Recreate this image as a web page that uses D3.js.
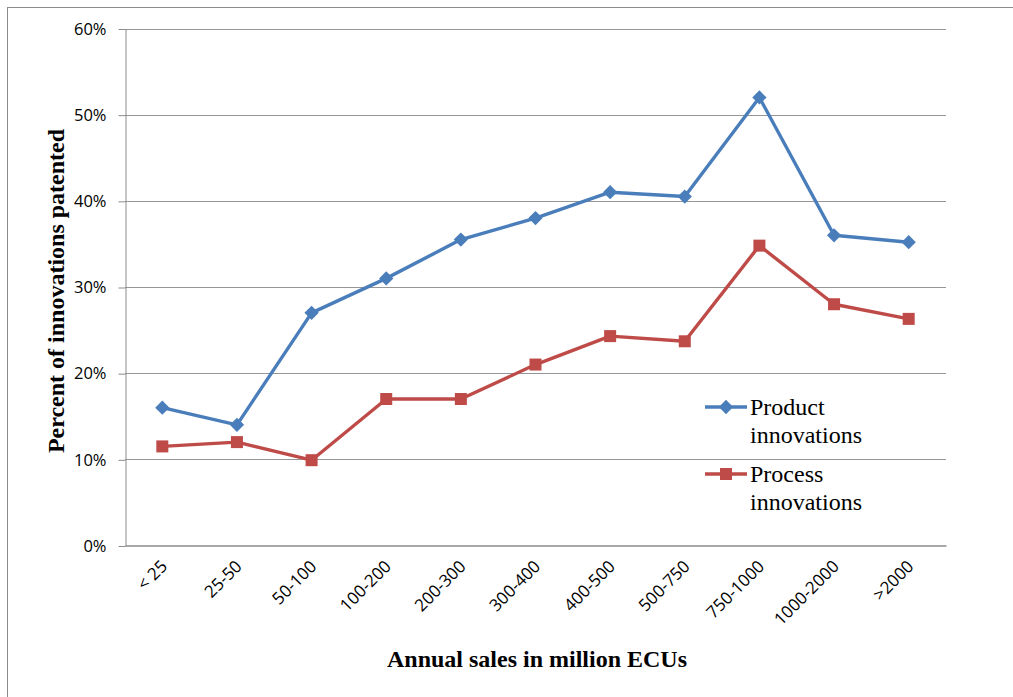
<!DOCTYPE html>
<html><head><meta charset="utf-8">
<script src="https://cdn.jsdelivr.net/npm/d3@7"></script>
<style>body{margin:0;background:#fff;}svg{display:block;}</style>
</head><body>
<svg id="c" width="1013" height="697"></svg>
<script>
const categories = ["< 25","25-50","50-100","100-200","200-300","300-400","400-500","500-750","750-1000","1000-2000",">2000"];
const productValues = [16, 14, 27, 31, 35.5, 38, 41, 40.5, 52, 36, 35.2];
const processValues = [11.5, 12, 9.9, 17, 17, 21, 24.3, 23.7, 34.8, 28, 26.3];
const yTicks = [0, 10, 20, 30, 40, 50, 60];
const seriesNames = [["Product","innovations"],["Process","innovations"]];

const svg = d3.select("#c");
const L = 125, R = 946, T = 28.5, B = 545.5;
svg.append("rect").attr("x",7.5).attr("y",7.5).attr("width",1010).attr("height",700)
  .attr("fill","none").attr("stroke","#8c8c8c").attr("stroke-width",1);

const x = d3.scaleBand().domain(categories).range([L, R]);
const y = d3.scaleLinear().domain([0, 60]).range([B, T]);
const sans = "'Open Sans', 'Liberation Sans', sans-serif";
const serif = "'Liberation Serif', 'Times New Roman', serif";

// gridlines
svg.append("g").selectAll("line").data(yTicks.filter(d=>d>0)).join("line")
  .attr("x1",L).attr("x2",R).attr("y1",d=>Math.round(y(d))+0.5).attr("y2",d=>Math.round(y(d))+0.5)
  .attr("stroke","#969696").attr("stroke-width",1);

// y axis
const yAxis = svg.append("g").attr("transform",`translate(${L+0.5},0.5)`)
  .call(d3.axisLeft(y).tickValues(yTicks).tickFormat(d=>d+"%").tickSize(7).tickSizeOuter(0));
yAxis.select(".domain").attr("stroke","#8c8c8c");
yAxis.selectAll(".tick line").attr("stroke","#8c8c8c");
yAxis.selectAll("text").attr("font-family",sans).attr("font-size",16.5).attr("fill","#000").attr("dx",-9);

// x axis
const xAxis = svg.append("g").attr("transform",`translate(0,${B})`)
  .call(d3.axisBottom(x).tickSize(0).tickSizeOuter(0));
xAxis.select(".domain").attr("stroke","#8c8c8c").attr("stroke-width",1.3);
xAxis.selectAll("text").attr("font-family",sans).attr("font-size",17).attr("fill","#000")
  .attr("text-anchor","end").attr("dy",null).attr("y",0)
  .attr("transform","translate(6,22) rotate(-45)");

const cx = d => x(d) + x.bandwidth()/2;
const line = d3.line().x((d,i)=>cx(categories[i])).y(d=>y(d));

const blue = "#4a7ebb", red = "#be4b48";
svg.append("path").datum(productValues).attr("d",line).attr("fill","none")
  .attr("stroke",blue).attr("stroke-width",3.4).attr("stroke-linejoin","round");
svg.append("path").datum(processValues).attr("d",line).attr("fill","none")
  .attr("stroke",red).attr("stroke-width",3.4).attr("stroke-linejoin","round");

const diamond = d3.symbol().type(d3.symbolDiamond2).size(130);
svg.append("g").selectAll("path").data(productValues).join("path")
  .attr("transform",(d,i)=>`translate(${cx(categories[i])},${y(d)})`)
  .attr("d",diamond).attr("fill",blue);
svg.append("g").selectAll("rect").data(processValues).join("rect")
  .attr("x",(d,i)=>cx(categories[i])-6).attr("y",d=>y(d)-6).attr("width",12).attr("height",12)
  .attr("fill",red);

// axis titles
svg.append("text").attr("x",537).attr("y",667).attr("text-anchor","middle")
  .attr("font-family",serif).attr("font-weight","bold").attr("font-size",24).attr("fill","#000")
  .text("Annual sales in million ECUs");
svg.append("text").attr("transform","translate(64,291) rotate(-90)").attr("text-anchor","middle")
  .attr("font-family",serif).attr("font-weight","bold").attr("font-size",24).attr("fill","#000")
  .text("Percent of innovations patented");

// legend
const lg = svg.append("g");
const legendY = [407, 474];
const colors = [blue, red];
seriesNames.forEach((nm,i)=>{
  const ly = legendY[i];
  lg.append("line").attr("x1",705).attr("x2",747).attr("y1",ly).attr("y2",ly)
    .attr("stroke",colors[i]).attr("stroke-width",3.4);
  if(i===0) lg.append("path").attr("transform",`translate(726,${ly})`).attr("d",diamond).attr("fill",blue);
  else lg.append("rect").attr("x",720).attr("y",ly-6).attr("width",12).attr("height",12).attr("fill",red);
  lg.append("text").attr("x",750).attr("y",ly+8).attr("font-family",serif).attr("font-size",24).attr("fill","#000").text(nm[0]);
  lg.append("text").attr("x",750).attr("y",ly+36).attr("font-family",serif).attr("font-size",24).attr("fill","#000").text(nm[1]);
});
</script>
</body></html>
